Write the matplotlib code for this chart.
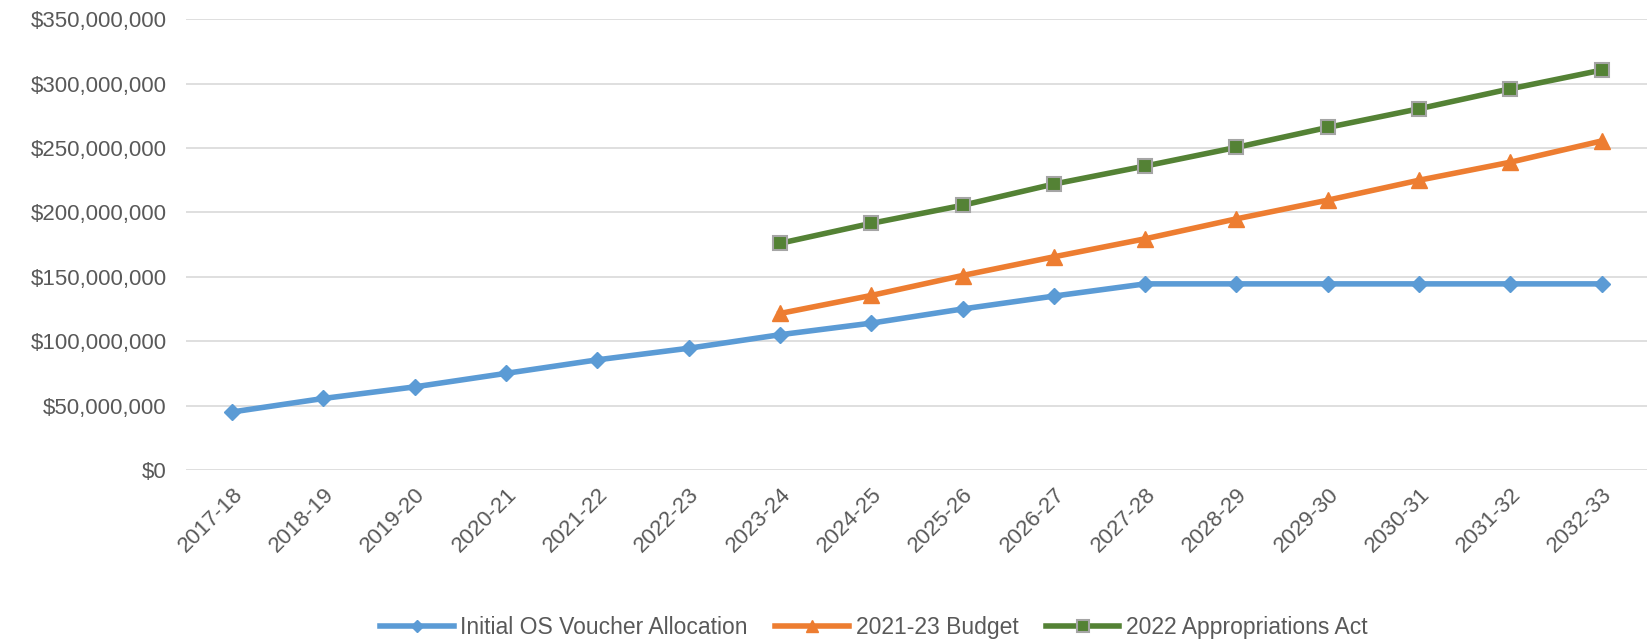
import matplotlib.pyplot as plt
import numpy as np
from matplotlib.ticker import FuncFormatter

years = ['2017-18', '2018-19', '2019-20', '2020-21', '2021-22', '2022-23',
         '2023-24', '2024-25', '2025-26', '2026-27', '2027-28', '2028-29',
         '2029-30', '2030-31', '2031-32', '2032-33']

# values in $ millions
initial_os = [45, 55.5, 64.5, 75, 85.5, 94.5, 105, 114, 125, 135,
              144.5, 144.5, 144.5, 144.5, 144.5, 144.5]
budget_2123 = [None] * 6 + [121.5, 135.5, 151, 165.5, 179.5, 195, 209.5, 225, 239, 255.5]
approp_2022 = [None] * 6 + [176, 191.5, 205.5, 222, 236, 250.5, 266, 280.5, 296, 310.5]

def to_arr(v):
    return np.array([np.nan if x is None else x * 1e6 for x in v])

plt.rcParams['font.family'] = ['Liberation Sans', 'DejaVu Sans']
txt = '#595959'

fig = plt.figure(figsize=(16.49, 6.42), dpi=100)
ax = fig.add_axes([0.113, 0.268, 0.886, 0.702])

x = np.arange(len(years))
ax.plot(x, to_arr(initial_os), color='#5B9BD5', lw=4, marker='D', ms=8,
        label='Initial OS Voucher Allocation', zorder=3)
ax.plot(x, to_arr(budget_2123), color='#ED7D31', lw=4, marker='^', ms=11,
        label='2021-23 Budget', zorder=3)
ax.plot(x, to_arr(approp_2022), color='#548235', lw=4, marker='s', ms=10,
        mec='#A5A5A5', mew=1.5, label='2022 Appropriations Act', zorder=3)

ax.set_xlim(-0.5, len(years) - 0.5)
ax.set_ylim(0, 350e6)
ax.set_yticks(np.arange(0, 350e6 + 1, 50e6))
ax.yaxis.set_major_formatter(FuncFormatter(lambda v, p: '${:,.0f}'.format(v)))
ax.set_xticks(x)
ax.set_xticklabels(years, rotation=45, ha='right', rotation_mode='anchor')
ax.tick_params(axis='both', length=0, labelsize=16, labelcolor=txt)
ax.tick_params(axis='y', pad=14)
ax.tick_params(axis='x', pad=10)
ax.grid(axis='y', color='#D9D9D9', lw=1.2)
ax.set_axisbelow(True)
for s in ax.spines.values():
    s.set_visible(False)

leg = fig.legend(loc='center', bbox_to_anchor=(0.53, 0.023), ncol=3, frameon=False,
                 fontsize=16.5, handlelength=3.2, columnspacing=1.2, handletextpad=0.3,
                 markerscale=0.8)
for t in leg.get_texts():
    t.set_color(txt)

fig.savefig('out.png', dpi=100)
